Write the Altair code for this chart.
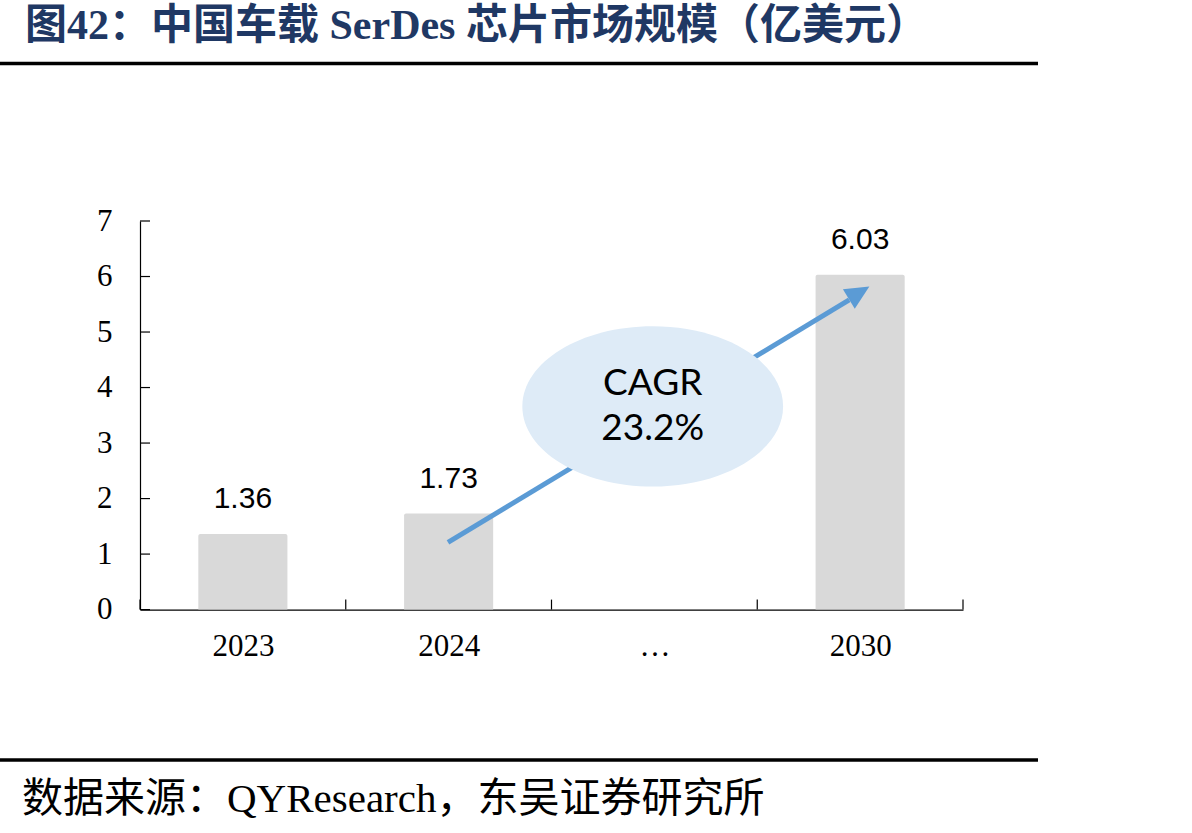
import json
import altair as alt
import pandas as pd

# ---------------- data ----------------
categories = ["2023", "2024", "…", "2030"]
values = [1.36, 1.73, None, 6.03]
value_labels = ["1.36", "1.73", "", "6.03"]
y_ticks = [0, 1, 2, 3, 4, 5, 6, 7]
boundaries = [0, 1, 2, 3, 4]

title_text = "图42：中国车载 SerDes 芯片市场规模（亿美元）"
source_text = "数据来源：QYResearch，东吴证券研究所"
cagr_lines = ["CAGR", "23.2%"]

# annotation anchors (data units)
arrow_start = (1.497, 1.21)
arrow_end = (3.447, 5.58)
head_center = (3.495, 5.708)
ellipse_center = (2.492, 3.66)

# ---------------- layout ----------------
W, H = 823, 388.6
PAD_L, PAD_T = 140, 221
TOTAL_W, TOTAL_H = 1192, 833
BAR_HALF = 0.2165

SERIF = "Liberation Serif, Noto Sans CJK SC"

bars_df = pd.DataFrame({
    "cat": categories,
    "pos": [i + 0.5 for i in range(len(categories))],
    "v": values,
    "label": value_labels,
})
bars_df["x0"] = bars_df["pos"] - BAR_HALF
bars_df["x1"] = bars_df["pos"] + BAR_HALF
bars_only = bars_df.dropna(subset=["v"])

xscale = alt.Scale(domain=[0, 4], nice=False, zero=False)
yscale = alt.Scale(domain=[0, 7], nice=False)

label_expr = json.dumps(categories, ensure_ascii=False) + "[floor(datum.value)]"

xaxis = alt.Axis(values=[0.5, 1.5, 2.5, 3.5], labelExpr=label_expr, tickSize=0,
                 grid=False, title=None, domainColor="black", domainWidth=1.2,
                 labelFont=SERIF, labelFontSize=31, labelColor="black",
                 labelPadding=22, labelOverlap=False, labelFlush=False)
yaxis = alt.Axis(values=y_ticks, format="d", tickSize=0, grid=False, title=None,
                 domainColor="black", domainWidth=1.2, labelFont=SERIF,
                 labelFontSize=31, labelColor="black", labelPadding=28)

bars = alt.Chart(bars_only).mark_bar(
    color="#D9D9D9", cornerRadiusTopLeft=2, cornerRadiusTopRight=2
).encode(
    x=alt.X("x0:Q", scale=xscale, axis=xaxis),
    x2="x1:Q",
    y=alt.Y("v:Q", scale=yscale, axis=yaxis),
    y2=alt.datum(0),
)

labels = alt.Chart(bars_only).mark_text(
    font="Liberation Sans", fontSize=30, color="black", baseline="alphabetic", dy=-26
).encode(x=alt.X("pos:Q", scale=xscale), y=alt.Y("v:Q", scale=yscale), text="label:N")

# inward ticks
xticks = alt.Chart(pd.DataFrame({"b": boundaries})).mark_rule(color="black", strokeWidth=1.2).encode(
    x=alt.X("b:Q", scale=xscale), y=alt.value(H), y2=alt.value(H - 10)
)
yticks = alt.Chart(pd.DataFrame({"t": y_ticks})).mark_rule(color="black", strokeWidth=1.2).encode(
    y=alt.Y("t:Q", scale=yscale), x=alt.value(0), x2=alt.value(10)
)

arrow_df = pd.DataFrame({"x": [arrow_start[0]], "y": [arrow_start[1]],
                         "x2": [arrow_end[0]], "y2": [arrow_end[1]]})
arrow_line = alt.Chart(arrow_df).mark_rule(color="#5B9BD5", strokeWidth=5, strokeCap="butt").encode(
    x=alt.X("x:Q", scale=xscale), y=alt.Y("y:Q", scale=yscale), x2="x2:Q", y2="y2:Q"
)
head_df = pd.DataFrame({"x": [head_center[0]], "y": [head_center[1]]})
arrow_head = alt.Chart(head_df).mark_point(
    shape="M 0 -1 L 0.95 1 L -0.95 1 Z", size=576, filled=True, color="#5B9BD5",
    opacity=1, angle=58.7, strokeWidth=0
).encode(x=alt.X("x:Q", scale=xscale), y=alt.Y("y:Q", scale=yscale))

ell_df = pd.DataFrame({"x": [ellipse_center[0]], "y": [ellipse_center[1]],
                       "t1": [cagr_lines[0]], "t2": [cagr_lines[1]]})
ellipse = alt.Chart(ell_df).mark_point(
    shape="M -1 0 A 1 0.614 0 1 1 1 0 A 1 0.614 0 1 1 -1 0 Z", size=68000,
    filled=True, fill="#DEEBF7", opacity=1, strokeWidth=0
).encode(x=alt.X("x:Q", scale=xscale), y=alt.Y("y:Q", scale=yscale))
cagr1 = alt.Chart(ell_df).mark_text(
    font="Lato", fontSize=37, color="black", baseline="middle", align="center", dy=-22.5
).encode(x=alt.X("x:Q", scale=xscale), y=alt.Y("y:Q", scale=yscale), text="t1:N")
cagr2 = alt.Chart(ell_df).mark_text(
    font="Lato", fontSize=37, color="black", baseline="middle", align="center", dy=22.5
).encode(x=alt.X("x:Q", scale=xscale), y=alt.Y("y:Q", scale=yscale), text="t2:N")

# header / footer decorations (pixel positions relative to plot origin)
deco = pd.DataFrame({"k": [0]})
title = alt.Chart(deco).mark_text(
    text=title_text, font=SERIF, fontSize=42, fontWeight="bold", color="#1F3864",
    align="left", baseline="middle"
).encode(x=alt.value(25 - PAD_L), y=alt.value(26 - PAD_T))
top_line = alt.Chart(deco).mark_rule(color="black", strokeWidth=3.5).encode(
    x=alt.value(-PAD_L), x2=alt.value(1038 - PAD_L), y=alt.value(63.5 - PAD_T)
)
bottom_line = alt.Chart(deco).mark_rule(color="black", strokeWidth=3.5).encode(
    x=alt.value(-PAD_L), x2=alt.value(1038 - PAD_L), y=alt.value(760 - PAD_T)
)
source = alt.Chart(deco).mark_text(
    text=source_text, font=SERIF, fontSize=41, color="black", align="left", baseline="middle"
).encode(x=alt.value(22 - PAD_L), y=alt.value(800 - PAD_T))

chart = alt.layer(
    bars, labels, xticks, yticks, arrow_line, arrow_head, ellipse, cagr1, cagr2,
    title, top_line, bottom_line, source
).properties(
    width=W, height=H,
    autosize=alt.AutoSizeParams(type="none"),
    padding={"left": PAD_L, "top": PAD_T, "right": TOTAL_W - PAD_L - W,
             "bottom": TOTAL_H - PAD_T - H},
).configure_view(stroke=None)

chart.save("out.html", embed_options={"renderer": "svg", "actions": False})
